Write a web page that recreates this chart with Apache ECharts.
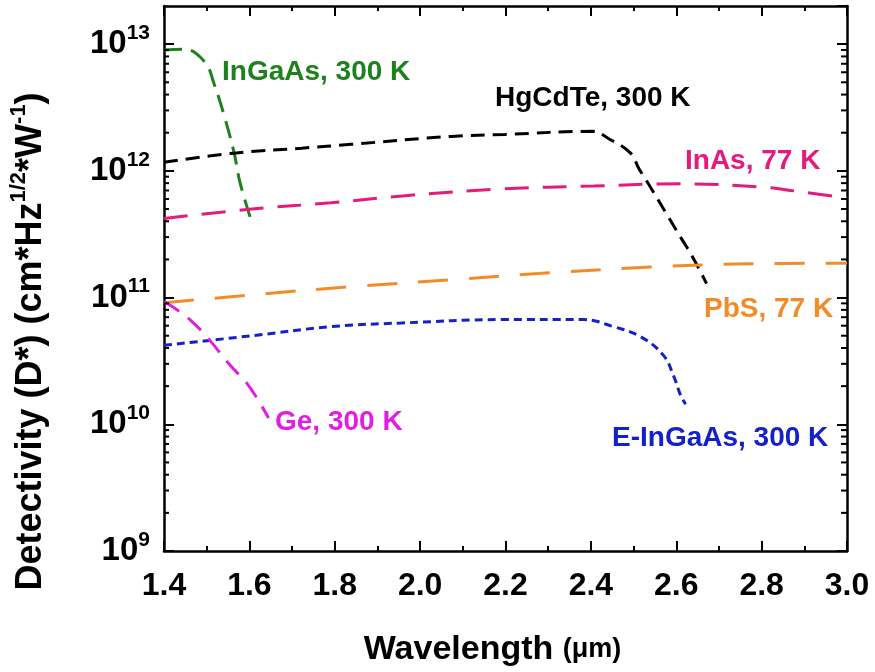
<!DOCTYPE html>
<html>
<head>
<meta charset="utf-8">
<script src="https://cdn.jsdelivr.net/npm/echarts@6/dist/echarts.min.js"></script>
<style>
  html, body { margin: 0; padding: 0; background: #fff; }
  #chart { width: 875px; height: 672px; }
</style>
</head>
<body>
<div id="chart"></div>
<script>
// Wavelength (µm) / detectivity (cm·Hz^1/2·W^-1) pairs for each detector
const inGaAs300 = [
  [1.400, 9.0e12], [1.449, 9.1e12], [1.496, 7.2e12], [1.517, 4.9e12],
  [1.540, 2.8e12], [1.564, 1.4e12], [1.578, 8.1e11], [1.606, 3.9e11]
];
const hgCdTe300 = [
  [1.400, 1.17e12], [1.564, 1.38e12], [1.722, 1.51e12], [1.839, 1.62e12],
  [2.073, 1.87e12], [2.200, 1.94e12], [2.404, 2.05e12], [2.440, 1.81e12],
  [2.493, 1.38e12], [2.512, 1.05e12], [2.540, 7.4e11], [2.582, 4.3e11],
  [2.610, 3.0e11], [2.638, 2.1e11], [2.671, 1.29e11]
];
const inAs77 = [
  [1.400, 4.2e11], [1.606, 5.0e11], [1.792, 5.6e11], [1.972, 6.4e11],
  [2.190, 7.2e11], [2.407, 7.6e11], [2.610, 7.9e11], [2.790, 7.5e11],
  [2.883, 6.9e11], [3.000, 6.1e11]
];
const pbS77 = [
  [1.400, 9.1e10], [1.606, 1.05e11], [1.839, 1.22e11], [2.073, 1.38e11],
  [2.306, 1.57e11], [2.540, 1.74e11], [2.773, 1.85e11], [3.000, 1.87e11]
];
const eInGaAs300 = [
  [1.400, 4.2e10], [1.606, 5.0e10], [1.792, 5.9e10], [1.956, 6.3e10],
  [2.190, 6.7e10], [2.383, 6.7e10], [2.453, 5.9e10], [2.517, 4.9e10],
  [2.570, 3.5e10], [2.594, 2.4e10], [2.610, 1.7e10], [2.622, 1.44e10]
];
const ge300 = [
  [1.400, 9.3e10], [1.426, 8.2e10], [1.465, 6.5e10], [1.505, 4.7e10],
  [1.552, 3.0e10], [1.599, 2.0e10], [1.645, 1.12e10]
];

// Axis ranges and tick layout
const xMin = 1.4, xMax = 3.0, xStep = 0.2;
const yMin = 1e9, yMax = 2e13;
const minorMultipliers = [2, 3, 4, 5, 6, 7, 8, 9];
const decades = [1e9, 1e10, 1e11, 1e12, 1e13];

const FONT = 'Arial, "Liberation Sans", sans-serif';

// Log-spaced minor tick positions along the detectivity axis
const yMinorTicks = [];
decades.forEach(d => minorMultipliers.forEach(m => {
  if (d * m < yMax) yMinorTicks.push([xMin, d * m]);
}));

const chart = echarts.init(document.getElementById('chart'), null, { renderer: 'canvas' });

function curve(name, data, color, dash) {
  return {
    name, type: 'line', data, xAxisIndex: 0, yAxisIndex: 0,
    showSymbol: false, smooth: 0.4,
    lineStyle: { color, width: 3, type: dash }, z: 3
  };
}

function tag(text, x, y, color) {
  return { type: 'text', x, y, style: { text, font: 'bold 28px ' + FONT, fill: color, verticalAlign: 'middle' } };
}

const supStyle = { fontSize: 21, fontWeight: 'bold', fontFamily: FONT, color: '#000', lineHeight: 21, verticalAlign: 'top' };
const frameLine = { show: true, onZero: false, lineStyle: { color: '#000', width: 2.5 } };
const majorTick = { show: true, inside: true, length: 10, lineStyle: { color: '#000', width: 2 } };
const xMinorTick = { show: true, splitNumber: 2, length: 5, lineStyle: { color: '#000', width: 2 } };

chart.setOption({
  animation: false,
  grid: { left: 162, right: 28, top: 6, bottom: 115 },
  xAxis: [{
    type: 'value', min: xMin, max: xMax, interval: xStep, position: 'bottom',
    name: '{w|Wavelength }{u|(\u03bcm)}', nameLocation: 'middle', nameGap: 82,
    nameTextStyle: {
      padding: [0, 26, 0, 0],
      rich: {
        w: { fontSize: 34, fontWeight: 'bold', fontFamily: FONT, color: '#000' },
        u: { fontSize: 27, fontWeight: 'bold', fontFamily: FONT, color: '#000' }
      }
    },
    axisLine: frameLine, axisTick: majorTick, minorTick: xMinorTick,
    axisLabel: {
      margin: 19, fontSize: 32, fontWeight: 'bold', fontFamily: FONT, color: '#000',
      formatter: v => v.toFixed(1)
    },
    splitLine: { show: false }
  }, {
    type: 'value', min: xMin, max: xMax, interval: xStep, position: 'top',
    axisLine: frameLine, axisTick: majorTick, minorTick: xMinorTick,
    axisLabel: { show: false }, splitLine: { show: false }
  }],
  yAxis: [{
    type: 'log', logBase: 10, min: yMin, max: yMax, position: 'left',
    name: '{n|Detectivity (D*) (cm*Hz}{s|1/2}{n|*W}{s|-1}{n|)}',
    nameLocation: 'middle', nameRotate: 90, nameGap: 110,
    nameTextStyle: {
      padding: [0, 126, 0, 0],
      rich: {
        n: { fontSize: 36, fontWeight: 'bold', fontFamily: FONT, color: '#000', lineHeight: 46 },
        s: { fontSize: 22, fontWeight: 'bold', fontFamily: FONT, color: '#000', lineHeight: 22, verticalAlign: 'top' }
      }
    },
    axisLine: frameLine, axisTick: majorTick,
    axisLabel: {
      margin: 14, showMaxLabel: false,
      formatter: v => '{b|10}{s|' + Math.round(Math.log10(v)) + '}',
      rich: {
        b: { fontSize: 33, fontWeight: 'bold', fontFamily: FONT, color: '#000', lineHeight: 43 },
        s: supStyle
      }
    },
    splitLine: { show: false }
  }, {
    type: 'log', logBase: 10, min: yMin, max: yMax, position: 'right',
    axisLine: frameLine, axisTick: majorTick,
    axisLabel: { show: false }, splitLine: { show: false }
  }],
  series: [
    curve('InGaAs, 300 K', inGaAs300, '#1e801e', [18, 9]),
    curve('HgCdTe, 300 K', hgCdTe300, '#000000', [14, 8]),
    curve('InAs, 77 K', inAs77, '#e6197d', [24, 14]),
    curve('PbS, 77 K', pbS77, '#f28c28', [30, 21]),
    curve('E-InGaAs, 300 K', eInGaAs300, '#1421c8', [8, 5]),
    curve('Ge, 300 K', ge300, '#e11ee1', [18, 11]),
    {
      // log-spaced minor ticks on the left and right frame edges
      type: 'custom', xAxisIndex: 0, yAxisIndex: 0,
      data: yMinorTicks, encode: { x: 0, y: 1 }, clip: false, z: 5,
      renderItem: (params, api) => {
        const v = api.value(1);
        const l = api.coord([xMin, v]);
        const r = api.coord([xMax, v]);
        const st = { stroke: '#000', lineWidth: 2 };
        return {
          type: 'group', children: [
            { type: 'line', shape: { x1: l[0], y1: l[1], x2: l[0] + 5, y2: l[1] }, style: st },
            { type: 'line', shape: { x1: r[0], y1: r[1], x2: r[0] - 6, y2: r[1] }, style: st }
          ]
        };
      }
    }
  ],
  graphic: [
    tag('InGaAs, 300 K', 222, 72, '#1e801e'),
    tag('HgCdTe, 300 K', 495, 98, '#000000'),
    tag('InAs, 77 K', 685, 161, '#e6197d'),
    tag('PbS, 77 K', 704, 309, '#f28c28'),
    tag('E-InGaAs, 300 K', 612, 438, '#1421c8'),
    tag('Ge, 300 K', 275, 422, '#e11ee1')
  ]
});
</script>
</body>
</html>
